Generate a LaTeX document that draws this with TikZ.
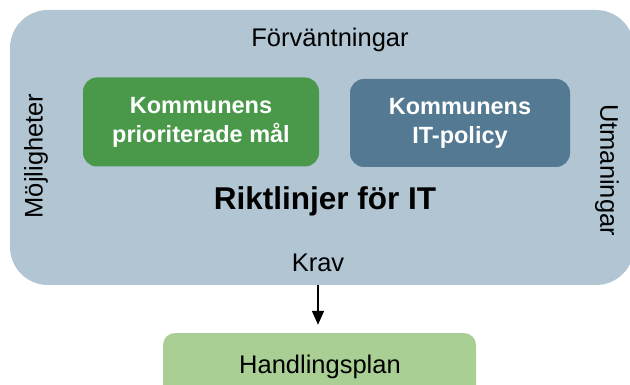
\documentclass[tikz,border=0pt]{standalone}
\usepackage{fontspec}
\setmainfont{Liberation Sans}
\usetikzlibrary{arrows.meta}
\definecolor{bigfill}{HTML}{B1C5D3}
\definecolor{greenfill}{HTML}{4A994B}
\definecolor{bluefill}{HTML}{537993}
\definecolor{lightgreen}{HTML}{AACF94}
\tikzset{
  bigbox/.style={rectangle, rounded corners=38pt, fill=bigfill, draw=none, inner sep=0pt},
  innerbox/.style={rectangle, rounded corners=14pt, draw=none, inner sep=0pt, text=white,
     font=\fontsize{23.5}{29}\selectfont\bfseries, align=center},
  planbox/.style={rectangle, rounded corners=12pt, fill=lightgreen, draw=none, inner sep=0pt},
  lbl/.style={inner sep=0pt, font=\fontsize{25.5}{30}\selectfont},
  conn/.style={line width=1.5pt, -{Triangle[length=14pt,width=12pt]}}
}
\begin{document}
\begin{tikzpicture}[x=1pt,y=-1pt]
\useasboundingbox (0,0) rectangle (630,385);
\node[bigbox, minimum width=624pt, minimum height=275pt] (main) at (322,147.5) {};
\node[innerbox, fill=greenfill, minimum width=236pt, minimum height=89pt] (goal) at (201,122) {Kommunens\\prioriterade mål};
\node[innerbox, fill=bluefill, minimum width=220pt, minimum height=88pt] (policy) at (460,123) {Kommunens\\IT-policy};
\node[lbl, anchor=base] (expect) at (330,47) {Förväntningar};
\node[lbl, anchor=base, font=\fontsize{31.5}{36}\selectfont\bfseries] (title) at (325,210) {Riktlinjer för IT};
\node[lbl, anchor=base] (krav) at (318,272) {Krav};
\node[lbl, rotate=90] (poss) at (36,156) {Möjligheter};
\node[lbl, rotate=-90] (chal) at (607,170) {Utmaningar};
\node[planbox, minimum width=313pt, minimum height=70pt] (hp) at (319.5,368) {};
\node[lbl, anchor=base] (hptext) at (320,373) {Handlingsplan};
\draw[conn, shorten >=8pt] (krav.south |- main.south) -- (krav.south |- hp.north);
\end{tikzpicture}
\end{document}
